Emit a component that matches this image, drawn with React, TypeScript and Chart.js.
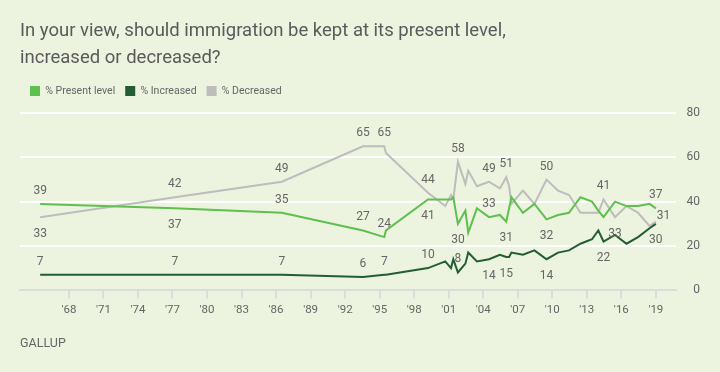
import React, { useEffect, useRef } from "react";
import { Chart, registerables } from "chart.js";

Chart.register(...registerables);

// ---- data ----
const surveyYears = [
  1965.5, 1977.2, 1986.5, 1993.55, 1995.4, 1995.55,
  1999.2, 2000.7, 2001.2, 2001.4, 2001.8,
  2002.45, 2002.7, 2003.45, 2004.5, 2005.45,
  2006.0, 2006.25, 2006.45, 2007.45, 2008.45,
  2009.5, 2010.5, 2011.45, 2012.45, 2013.45,
  2014.0, 2014.45, 2015.45, 2016.45, 2017.45,
  2018.45, 2019.0,
];
const presentLevel = [
  39, 37, 35, 27, 24, 27,
  41, 41, 41, 42, 30,
  36, 26, 37, 33, 34,
  31, 37, 42, 35, 39,
  32, 34, 35, 42, 40,
  36, 33, 40, 38, 38,
  39, 37,
];
const increased = [
  7, 7, 7, 6, 7, 7,
  10, 13, 10, 14, 8,
  12, 17, 13, 14, 16,
  15, 15, 17, 16, 18,
  14, 17, 18, 21, 23,
  27, 22, 25, 21, 24,
  28, 30,
];
const decreased = [
  33, 42, 49, 65, 65, 62,
  44, 38, 43, 41, 58,
  48, 54, 47, 49, 46,
  51, 47, 39, 45, 39,
  50, 45, 43, 35, 35,
  35, 41, 33, 38, 35,
  29, 31,
];

const tickYears = [1968, 1971, 1974, 1977, 1980, 1983, 1986, 1989, 1992, 1995, 1998, 2001, 2004, 2007, 2010, 2013, 2016, 2019];
const tickLabels = ["'68", "'71", "'74", "'77", "'80", "'83", "'86", "'89", "'92", "'95", "'98", "'01", "'04", "'07", "'10", "'13", "'16", "'19"];
const yTicks = [0, 20, 40, 60, 80];

const seriesNames = ["% Present level", "% Increased", "% Decreased"];
const seriesColors = ["#5fbf4f", "#235d33", "#bdbdbd"];

// which points carry a value label, and on which side
const presentLabels: [number, string][] = [[0, "above"], [1, "below"], [2, "above"], [3, "above"], [4, "above"], [6, "below"], [10, "below"], [14, "above"], [16, "below"], [21, "below"], [32, "above"]];
const increasedLabels: [number, string][] = [[0, "above"], [1, "above"], [2, "above"], [3, "above"], [4, "above"], [6, "above"], [10, "above"], [14, "below"], [16, "below"], [21, "below"], [27, "below"], [32, "below"]];
const decreasedLabels: [number, string][] = [[0, "below"], [1, "above"], [2, "above"], [3, "above"], [4, "above"], [6, "above"], [10, "above"], [14, "above"], [16, "above"], [21, "above"], [27, "above"], [28, "below"], [32, "right"]];

const titleLines = ["In your view, should immigration be kept at its present level,", "increased or decreased?"];
const sourceText = "GALLUP";

const FONT = "Roboto, 'Noto Sans', sans-serif";
const TEXT = "#666666";

const valueLabelPlugin = {
  id: "valueLabels",
  afterDatasetsDraw(chart: any) {
    const ctx = chart.ctx;
    const xs = chart.scales.x;
    const ys = chart.scales.y;
    const all = [presentLabels, increasedLabels, decreasedLabels];
    ctx.save();
    ctx.font = `12px ${FONT}`;
    ctx.fillStyle = TEXT;
    ctx.textBaseline = "middle";
    all.forEach((specs, di) => {
      const data = chart.data.datasets[di].data as { x: number; y: number }[];
      specs.forEach(([i, pos]) => {
        const pt = data[i];
        const px = xs.getPixelForValue(pt.x);
        const py = ys.getPixelForValue(pt.y);
        let tx = px;
        let ty = py;
        ctx.textAlign = "center";
        if (pos === "above") ty = py - 13;
        else if (pos === "below") ty = py + 16.5;
        else if (pos === "right") {
          ctx.textAlign = "left";
          tx = px + 1;
          ty = py - 6;
        }
        ctx.fillText(String(pt.y), tx, ty);
      });
    });
    ctx.restore();
  },
};

// adds a little space under the legend
const legendGapPlugin = {
  id: "legendGap",
  beforeInit(chart: any) {
    const lg = chart.legend;
    if (!lg) return;
    const orig = lg.fit;
    lg.fit = function () {
      orig.call(this);
      this.height += 7;
    };
  },
};

export default function App() {
  const canvasRef = useRef<HTMLCanvasElement | null>(null);

  useEffect(() => {
    const canvas = canvasRef.current;
    if (!canvas) return;
    const series = [presentLevel, increased, decreased];
    const chart = new Chart(canvas, {
      type: "line",
      data: {
        datasets: series.map((vals, si) => ({
          label: seriesNames[si],
          data: vals.map((v, i) => ({ x: surveyYears[i], y: v })),
          borderColor: seriesColors[si],
          backgroundColor: seriesColors[si],
          borderWidth: 2,
          pointRadius: 0,
          tension: 0,
          fill: false,
        })),
      },
      options: {
        animation: false,
        responsive: false,
        devicePixelRatio: 1,
        layout: { padding: { left: 20, right: 20, top: 0, bottom: 0 } },
        plugins: {
          title: {
            display: true,
            text: titleLines,
            align: "start",
            color: "#5a5a5a",
            font: { family: FONT, size: 18.5, weight: "normal", lineHeight: 1.45 },
            padding: { top: 18, bottom: 4 },
          },
          legend: {
            display: true,
            position: "top",
            align: "start",
            labels: {
              boxWidth: 10,
              boxHeight: 10,
              padding: 10,
              color: TEXT,
              font: { family: FONT, size: 10.5 },
              generateLabels: (c: any) =>
                c.data.datasets.map((ds: any, i: number) => ({
                  text: ds.label,
                  fillStyle: ds.borderColor,
                  strokeStyle: ds.borderColor,
                  lineWidth: 0,
                  hidden: false,
                  datasetIndex: i,
                  fontColor: TEXT,
                })),
            },
          },
          subtitle: {
            display: true,
            text: sourceText,
            position: "bottom",
            align: "start",
            color: TEXT,
            font: { family: FONT, size: 12.5, weight: "normal" },
            padding: { top: 13, bottom: 21 },
          },
          tooltip: { enabled: false },
        },
        scales: {
          x: {
            type: "linear",
            min: 1963.75,
            max: 2020.75,
            afterBuildTicks: (axis: any) => {
              axis.ticks = tickYears.map((v) => ({ value: v }));
            },
            ticks: {
              autoSkip: false,
              maxRotation: 0,
              color: TEXT,
              font: { family: FONT, size: 11.5 },
              padding: 5.5,
              callback: (value: any) => {
                const k = tickYears.indexOf(Number(value));
                return k >= 0 ? tickLabels[k] : "";
              },
            },
            grid: {
              drawOnChartArea: false,
              drawTicks: true,
              tickLength: 8,
              color: "#dcdcdc",
              lineWidth: 2,
            },
            border: { display: true, color: "#dcdcdc", width: 2 },
          },
          y: {
            position: "right",
            min: 0,
            max: 80,
            afterBuildTicks: (axis: any) => {
              axis.ticks = yTicks.map((v) => ({ value: v }));
            },
            afterFit: (axis: any) => {
              axis.width = 24;
            },
            ticks: {
              color: TEXT,
              font: { family: FONT, size: 12 },
              padding: 10,
              crossAlign: "far",
            },
            grid: {
              drawTicks: false,
              lineWidth: 2,
              color: (c: any) => (c.tick && c.tick.value === 0 ? "rgba(0,0,0,0)" : "#ffffff"),
            },
            border: { display: false },
          },
        },
      },
      plugins: [valueLabelPlugin, legendGapPlugin],
    } as any);
    return () => chart.destroy();
  }, []);

  return (
    <div
      style={{
        position: "fixed",
        left: 0,
        top: 0,
        width: 720,
        height: 372,
        background: "#ecf3de",
      }}
    >
      <canvas ref={canvasRef} width={720} height={372} style={{ display: "block" }} />
    </div>
  );
}
